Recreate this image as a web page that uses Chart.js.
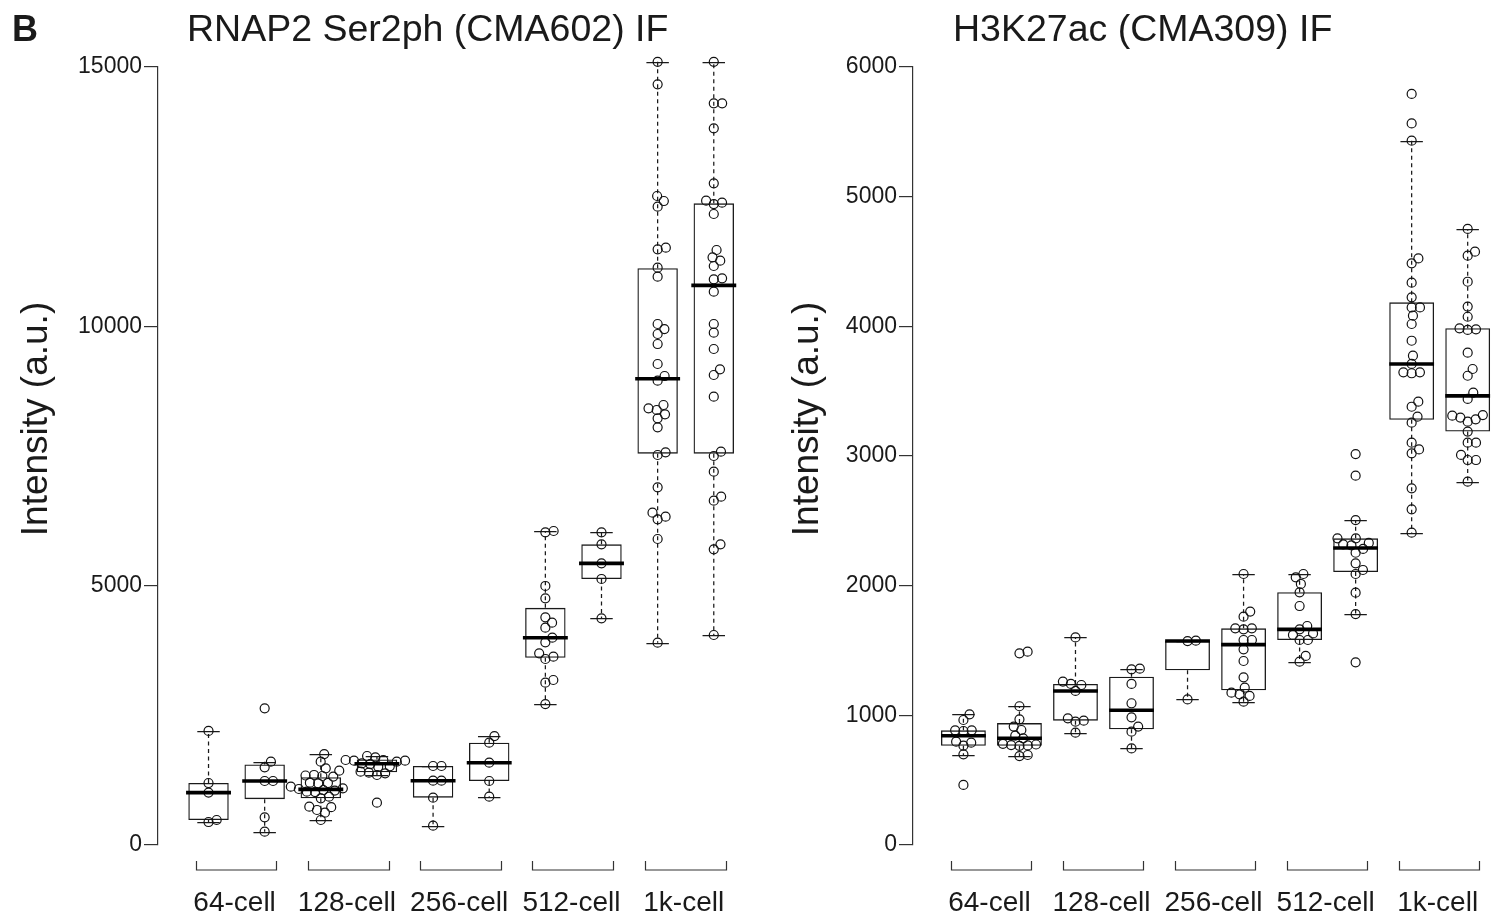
<!DOCTYPE html>
<html><head><meta charset="utf-8">
<script src="https://cdn.jsdelivr.net/npm/chart.js@4.4.1/dist/chart.umd.min.js"></script>
<style>
html,body{margin:0;padding:0;background:#fff;width:1507px;height:917px;overflow:hidden;}
.wrap{position:absolute;top:0;height:917px;}
canvas{display:block;}
</style></head><body>
<div class="wrap" style="left:0;width:770px"><canvas id="c1" width="770" height="917"></canvas></div>
<div class="wrap" style="left:770px;width:737px"><canvas id="c2" width="737" height="917"></canvas></div>
<script>
// ---------- data ----------
const stages = ['64-cell', '128-cell', '256-cell', '512-cell', '1k-cell'];
const rnapTitle = 'RNAP2 Ser2ph (CMA602) IF';
const h3Title = 'H3K27ac (CMA309) IF';
const yTitle = 'Intensity (a.u.)';
const rnapTicks = [0, 5000, 10000, 15000];
const h3Ticks = [0, 1000, 2000, 3000, 4000, 5000, 6000];

// RNAP2 Ser2ph box statistics (two boxes per stage)
const rnapLo  = [443, 257, 482, 1350, 373, 932, 2718, 4370, 3901, 4049];
const rnapQ1  = [482, 884, 900, 1404, 913, 1234, 3608, 5129, 7545, 7545];
const rnapMed = [1010, 1234, 1073, 1567, 1240, 1587, 3997, 5430, 8990, 10790];
const rnapQ3  = [1195, 1552, 1305, 1650, 1523, 1973, 4572, 5797, 11120, 12371];
const rnapHi  = [2200, 1606, 1754, 1716, 1523, 2100, 6054, 6028, 15100, 15100];
const rnapPoints = [
  [2200, 1195, 1010, 482, 443],
  [2635, 1606, 1498, 1234, 1234, 534, 257],
  [1754, 1607, 1478, 1433, 1350, 1340, 1330, 1320, 1202, 1195, 1189, 1125, 1093, 1080, 1060, 1050, 1028, 1020, 932, 900, 739, 730, 675, 623, 482],
  [1716, 1690, 1639, 1639, 1626, 1626, 1607, 1575, 1560, 1517, 1510, 1414, 1394, 1382, 1350, 816],
  [1523, 1523, 1240, 1240, 913, 373],
  [2100, 1973, 1587, 1234, 932],
  [6054, 6028, 4994, 4756, 4389, 4287, 4190, 3997, 3907, 3695, 3631, 3586, 3181, 3130, 2718],
  [6028, 5797, 5430, 5129, 4370],
  [15100, 14666, 12513, 12416, 12307, 11517, 11484, 11130, 10957, 10045, 9948, 9852, 9659, 9274, 9042, 8952, 8483, 8419, 8387, 8303, 8226, 8053, 7570, 7519, 6896, 6407, 6330, 6279, 5900, 3901],
  [15100, 14299, 14299, 13817, 12757, 12423, 12384, 12358, 12166, 11472, 11330, 11266, 11163, 10925, 10906, 10668, 10045, 9878, 9563, 9171, 9062, 8644, 7583, 7500, 7198, 6716, 6639, 5797, 5700, 4049]
];

// H3K27ac box statistics
const h3Lo  = [694, 686, 866, 745, 1123, 1105, 1414, 1781, 2409, 2802];
const h3Q1  = [766, 765, 959, 893, 1348, 1194, 1581, 2105, 3280, 3188];
const h3Med = [842, 823, 1188, 1039, 1573, 1545, 1663, 2290, 3710, 3464];
const h3Q3  = [884, 940, 1242, 1298, 1575, 1671, 1949, 2365, 4185, 3985];
const h3Hi  = [1008, 1070, 1601, 1360, 1576, 2090, 2090, 2506, 5432, 4751];
const h3Points = [
  [1008, 964, 884, 879, 884, 797, 789, 766, 699, 463],
  [1491, 1478, 1070, 969, 913, 887, 843, 823, 780, 775, 771, 768, 765, 694, 686],
  [1601, 1260, 1242, 1234, 1188, 977, 959, 951, 866],
  [1360, 1355, 1242, 1093, 985, 913, 874, 745],
  [1576, 1573, 1123],
  [2090, 1800, 1761, 1671, 1671, 1663, 1581, 1581, 1509, 1419, 1293, 1213, 1175, 1162, 1150, 1105],
  [2090, 2064, 2013, 1949, 1843, 1689, 1663, 1632, 1620, 1581, 1581, 1458, 1414],
  [3015, 2848, 2506, 2365, 2365, 2330, 2318, 2310, 2283, 2254, 2172, 2121, 2090, 1946, 1781, 1409],
  [5792, 5565, 5432, 4524, 4486, 4337, 4224, 4146, 4146, 4082, 4018, 3889, 3774, 3710, 3645, 3645, 3638, 3419, 3380, 3303, 3257, 3103, 3051, 3021, 2751, 2589, 2409],
  [4751, 4576, 4545, 4344, 4152, 4074, 3985, 3977, 3972, 3797, 3671, 3619, 3488, 3440, 3316, 3311, 3296, 3283, 3265, 3188, 3103, 3103, 3008, 2969, 2969, 2802]
];

// ---------- rendering ----------
const FONT = "'Liberation Sans', Arial, Helvetica, sans-serif";
Chart.defaults.font.family = FONT;
Chart.defaults.animation = false;
const INK = '#1a1a1a';

function makePanel(p) {
  const n = p.lo.length;
  const boxData = p.q1.map((q, i) => ({ x: i + 1, y: [q, p.q3[i]] }));
  const decor = {
    id: 'decor_' + p.id,
    beforeDatasetsDraw(chart) {
      const { ctx, scales: { x, y } } = chart;
      ctx.save();
      ctx.strokeStyle = INK;
      ctx.lineWidth = 1.25;
      for (let i = 0; i < n; i++) {
        const cx = x.getPixelForValue(i + 1);
        const hw = x.getPixelForValue(i + 1.2) - cx;
        ctx.setLineDash([4, 3.5]);
        ctx.beginPath();
        ctx.moveTo(cx, y.getPixelForValue(p.q3[i]));
        ctx.lineTo(cx, y.getPixelForValue(p.hi[i]));
        ctx.moveTo(cx, y.getPixelForValue(p.q1[i]));
        ctx.lineTo(cx, y.getPixelForValue(p.lo[i]));
        ctx.stroke();
        ctx.setLineDash([]);
        ctx.beginPath();
        const yh = Math.round(y.getPixelForValue(p.hi[i])) + 0.5;
        const yl = Math.round(y.getPixelForValue(p.lo[i])) + 0.5;
        ctx.moveTo(cx - hw, yh); ctx.lineTo(cx + hw, yh);
        ctx.moveTo(cx - hw, yl); ctx.lineTo(cx + hw, yl);
        ctx.stroke();
      }
      ctx.restore();
    },
    afterDatasetsDraw(chart) {
      const { ctx, scales: { x, y } } = chart;
      ctx.save();
      // medians
      ctx.strokeStyle = '#000';
      ctx.lineWidth = 3.6;
      ctx.lineCap = 'butt';
      for (let i = 0; i < n; i++) {
        const cx = x.getPixelForValue(i + 1);
        const hw = x.getPixelForValue(i + 1.4) - cx;
        const ym = y.getPixelForValue(p.med[i]);
        ctx.beginPath();
        ctx.moveTo(cx - hw, ym); ctx.lineTo(cx + hw, ym);
        ctx.stroke();
      }
      // group brackets and labels
      ctx.strokeStyle = '#333';
      ctx.lineWidth = 1.2;
      ctx.fillStyle = INK;
      ctx.font = '28px ' + FONT;
      ctx.textAlign = 'center';
      ctx.textBaseline = 'alphabetic';
      stages.forEach((s, g) => {
        const c = 2 * g + 1.5;
        const xa = Math.round(x.getPixelForValue(c - 0.73)) + 0.5;
        const xb = Math.round(x.getPixelForValue(c + 0.71)) + 0.5;
        ctx.beginPath();
        ctx.moveTo(xa, p.brTop); ctx.lineTo(xa, p.brY); ctx.lineTo(xb, p.brY); ctx.lineTo(xb, p.brTop);
        ctx.stroke();
        ctx.fillText(s, x.getPixelForValue(c) - 2, p.labY);
      });
      // panel title
      ctx.textAlign = 'left';
      ctx.font = '37.5px ' + FONT;
      ctx.fillText(p.title, p.titleX, p.titleY);
      if (p.letter) {
        ctx.font = 'bold 36px ' + FONT;
        ctx.fillText(p.letter, p.letterX, p.titleY);
      }
      // y axis title
      ctx.translate(p.yTitleX, p.yTitleY);
      ctx.rotate(-Math.PI / 2);
      ctx.textAlign = 'center';
      ctx.textBaseline = 'middle';
      ctx.font = '37px ' + FONT;
      ctx.fillText(yTitle, 0, 0);
      ctx.restore();
    }
  };

  const chart = new Chart(document.getElementById(p.id), {
    type: 'scatter',
    data: {
      datasets: [
        {
          type: 'bar',
          data: boxData,
          backgroundColor: 'rgba(255,255,255,0)',
          borderColor: INK,
          borderWidth: 1.3,
          borderSkipped: false,
          barPercentage: 0.8,
          categoryPercentage: 1,
          order: 2,
          clip: false
        },
        {
          type: 'scatter',
          data: [],
          pointStyle: 'circle',
          pointRadius: 4.5,
          pointBorderWidth: 1.2,
          pointBackgroundColor: 'rgba(255,255,255,0)',
          pointBorderColor: '#111',
          order: 1,
          clip: false
        }
      ]
    },
    options: {
      responsive: false,
      animation: false,
      events: [],
      layout: { padding: { left: 0, top: 67, right: p.padRight, bottom: 72 } },
      plugins: { legend: { display: false }, tooltip: { enabled: false }, title: { display: false } },
      scales: {
        x: { type: 'linear', display: false, offset: false, min: 0.1, max: p.xMax },
        y: {
          type: 'linear', min: 0, max: p.yMax, offset: false,
          afterBuildTicks: s => { s.ticks = p.ticks.map(v => ({ value: v })); },
          afterFit: s => { s.width = p.axisX; },
          grid: { drawOnChartArea: false, drawTicks: true, tickLength: 14, color: '#333', lineWidth: 1.2 },
          border: { display: true, color: '#333', width: 1.2 },
          ticks: { font: { family: FONT, size: 23 }, color: INK, padding: 2, autoSkip: false, maxRotation: 0,
                   callback: v => String(v) }
        }
      }
    },
    plugins: [decor]
  });

  // beeswarm placement of points (layout only, values come from the arrays)
  const xs = chart.scales.x, ys = chart.scales.y;
  const ppu = xs.getPixelForValue(2) - xs.getPixelForValue(1);
  const d = 8.4;
  const pts = [];
  p.points.forEach((vals, i) => {
    const idx = vals.map((v, k) => k).sort((a, b) => vals[a] - vals[b]);
    const placed = [];
    idx.forEach(k => {
      const py = ys.getPixelForValue(vals[k]);
      const cands = [0];
      placed.forEach(q => {
        const dy = Math.abs(q.y - py);
        if (dy < d) { const dx = Math.sqrt(d * d - dy * dy); cands.push(q.x + dx, q.x - dx); }
      });
      cands.sort((a, b) => Math.abs(a) - Math.abs(b) || b - a);
      let best = 0;
      for (const c of cands) {
        if (placed.every(q => (q.x - c) ** 2 + (q.y - py) ** 2 >= d * d - 0.01)) { best = c; break; }
      }
      placed.push({ x: best, y: py });
      pts.push({ x: i + 1 + best / ppu, y: vals[k] });
    });
  });
  chart.data.datasets[1].data = pts;
  chart.update('none');
  return chart;
}

makePanel({
  id: 'c1', lo: rnapLo, q1: rnapQ1, med: rnapMed, q3: rnapQ3, hi: rnapHi, points: rnapPoints,
  ticks: rnapTicks, yMax: 15000, axisX: 158, padRight: 4, xMax: 10.9,
  brTop: 861, brY: 870, labY: 911,
  title: rnapTitle, titleX: 187, titleY: 41, letter: 'B', letterX: 12,
  yTitleX: 37, yTitleY: 419
});
makePanel({
  id: 'c2', lo: h3Lo, q1: h3Q1, med: h3Med, q3: h3Q3, hi: h3Hi, points: h3Points,
  ticks: h3Ticks, yMax: 6000, axisX: 143, padRight: 0, xMax: 10.6,
  brTop: 861, brY: 870, labY: 911,
  title: h3Title, titleX: 953 - 770, titleY: 41, letter: null,
  yTitleX: 808 - 770, yTitleY: 419
});
</script>
</body></html>
